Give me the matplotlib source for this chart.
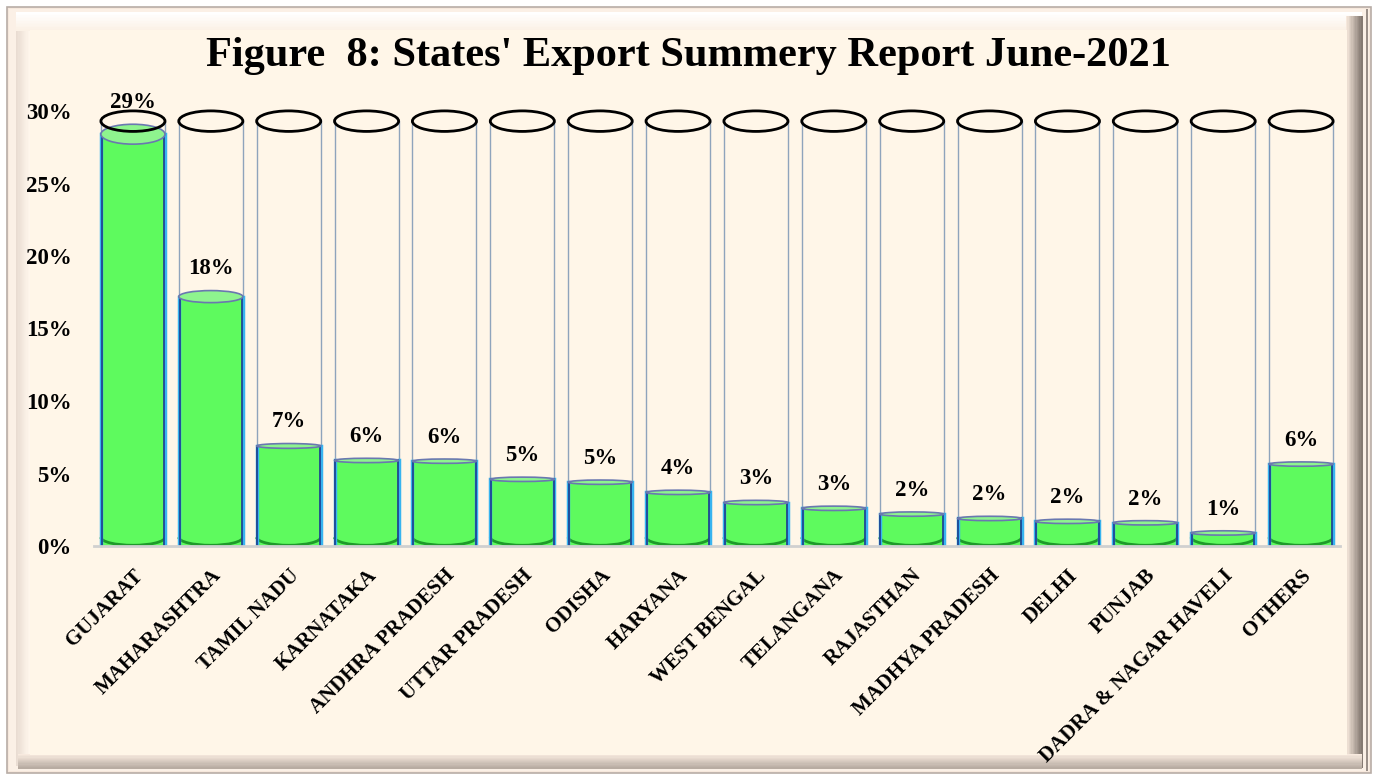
import matplotlib
matplotlib.use('Agg')
import numpy as np
import matplotlib.pyplot as plt
from matplotlib.patches import Rectangle, Ellipse, Arc
from matplotlib.colors import to_rgb
from matplotlib.ticker import FuncFormatter

# Данные графика
states = ['GUJARAT', 'MAHARASHTRA', 'TAMIL NADU', 'KARNATAKA', 'ANDHRA PRADESH',
          'UTTAR PRADESH', 'ODISHA', 'HARYANA', 'WEST BENGAL', 'TELANGANA',
          'RAJASTHAN', 'MADHYA PRADESH', 'DELHI', 'PUNJAB',
          'DADRA & NAGAR HAVELI', 'OTHERS']
shares = [0.284, 0.172, 0.069, 0.059, 0.0585, 0.046, 0.044, 0.037, 0.030,
          0.026, 0.022, 0.019, 0.017, 0.016, 0.009, 0.0565]
labels = ['29%', '18%', '7%', '6%', '6%', '5%', '5%', '4%', '3%', '3%',
          '2%', '2%', '2%', '2%', '1%', '6%']
title = "Figure  8: States' Export Summery Report June-2021"

W, H = 1375, 776
bg = '#FFF6E8'
green = '#5EFA5E'
font = 'Liberation Serif'

fig = plt.figure(figsize=(W / 100, H / 100), dpi=100)
fig.patch.set_facecolor('white')


def frame_rect(x0, y0, x1, y1, **kw):
    kw.setdefault('edgecolor', 'none')
    fig.add_artist(Rectangle((x0 / W, 1 - y1 / H), (x1 - x0) / W, (y1 - y0) / H,
                             transform=fig.transFigure, zorder=-5, **kw))


def gradient(x0, y0, x1, y1, c0, c1, vertical, n=12):
    c0, c1 = np.array(to_rgb(c0)), np.array(to_rgb(c1))
    for k in range(n):
        t = k / (n - 1)
        c = c0 + (c1 - c0) * t
        if vertical:
            a = x0 + (x1 - x0) * k / n
            frame_rect(a, y0, a + (x1 - x0) / n + 0.5, y1, facecolor=c)
        else:
            a = y0 + (y1 - y0) * k / n
            frame_rect(x0, a, x1, a + (y1 - y0) / n + 0.5, facecolor=c)


# рамка с фаской
frame_rect(7, 7, 1371, 773, facecolor='#F6E8DC', edgecolor='#B8ADA6', lw=1.2)
frame_rect(9, 9, 1369, 771, facecolor='#FBF0E6')
gradient(16, 16, 30, 766, '#E9DCD2', '#FFF6EC', True)
gradient(16, 12, 1362, 30, '#FFFFFF', '#FBF1E6', False)
gradient(1346, 16, 1362, 768, '#F6E8DC', '#857A72', True)
gradient(18, 754, 1362, 768, '#F8EADF', '#B8ACA2', False)
frame_rect(1366, 9, 1368, 771, facecolor='#9A8F88')
frame_rect(30, 30, 1347, 755, facecolor=bg)

ax = fig.add_axes([94 / W, 1 - 546 / H, (1340 - 94) / W, (546 - 111) / H])
ax.set_zorder(2)
ax.set_facecolor('none')
ax.set_xlim(-0.5, len(states) - 0.5)
ax.set_ylim(0, 0.30)

bw = 0.823
glass_top = 0.293
base = 0.006


def ell_h(y):
    return max(0.0483 * y, 0.003)


for i, v in enumerate(shares):
    x0 = i - bw / 2
    x1 = i + bw / 2
    # стеклянный цилиндр
    ax.plot([x0, x0], [0, glass_top], color='#8FA4BC', lw=1, zorder=1, clip_on=False)
    ax.plot([x1, x1], [0, glass_top], color='#8FA4BC', lw=1, zorder=1, clip_on=False)
    # столб
    ax.add_patch(Rectangle((x0, 0), bw, v, facecolor=green,
                           edgecolor='none', zorder=3))
    # дно
    ax.add_patch(Arc((i, base), bw, 0.011, theta1=180, theta2=360,
                     color='#1E9A2A', lw=2, zorder=4))
    ax.plot([x0, x0], [0, v], color='#38B4F0', lw=2.5, zorder=4)
    ax.plot([x1, x1], [0, v], color='#38B4F0', lw=2.5, zorder=4)
    ax.plot([x0 + 0.01, x0 + 0.01], [0, v], color='#1C3C8C', lw=1.2, zorder=4)
    ax.plot([x1 - 0.01, x1 - 0.01], [0, v], color='#1C3C8C', lw=1.2, zorder=4)
    # верх жидкости
    ax.add_patch(Ellipse((i, v), bw, ell_h(v), facecolor='#8EF48E',
                         edgecolor='#6A78B0', lw=1.2, zorder=5, clip_on=False))
    # верх стекла
    ax.add_patch(Ellipse((i, glass_top), bw, ell_h(glass_top), facecolor='none',
                         edgecolor='black', lw=2, zorder=6, clip_on=False))
    ax.annotate(labels[i], (i, v + ell_h(v) / 2), xytext=(0, 8),
                textcoords='offset points', ha='center', va='bottom',
                fontsize=16.5, fontweight='bold', family=font, zorder=7,
                annotation_clip=False)

for s in ['top', 'right', 'left']:
    ax.spines[s].set_visible(False)
ax.spines['bottom'].set_color('#D0D0D0')
ax.spines['bottom'].set_linewidth(2)
ax.spines['bottom'].set_zorder(8)

ax.set_yticks([0, 0.05, 0.10, 0.15, 0.20, 0.25, 0.30])
ax.yaxis.set_major_formatter(FuncFormatter(lambda y, p: '{:.0f}%'.format(y * 100)))
ax.set_xticks(range(len(states)))
ax.set_xticklabels(states, rotation=45, ha='right', va='top', rotation_mode='anchor')
ax.tick_params(axis='y', length=0, pad=16)
ax.tick_params(axis='x', length=0, pad=14)
for t in ax.get_yticklabels() + ax.get_xticklabels():
    t.set_fontfamily(font)
    t.set_fontweight('bold')
for t in ax.get_yticklabels():
    t.set_fontsize(16.5)
for t in ax.get_xticklabels():
    t.set_fontsize(15)

fig.text(688 / W, 1 - 56 / H, title, ha='center', va='center', fontsize=30.5,
         fontweight='bold', family=font)

plt.savefig('out.png', dpi=100, facecolor=fig.get_facecolor())
